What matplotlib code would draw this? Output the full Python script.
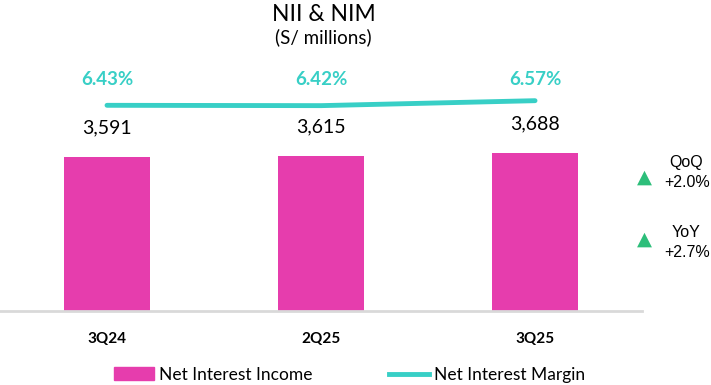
import matplotlib.pyplot as plt
from matplotlib.patches import Patch
from matplotlib.lines import Line2D

plt.rcParams['font.family'] = ['Lato', 'DejaVu Sans']

quarters = ['3Q24', '2Q25', '3Q25']
nii = [3591, 3615, 3688]
nim = [6.43, 6.42, 6.57]
nim_labels = ['6.43%', '6.42%', '6.57%']
changes = [('QoQ', '+2.0%'), ('YoY', '+2.7%')]

pink = '#E63DAD'
teal = '#38CFC6'
green = '#2DBE7A'

fig = plt.figure(figsize=(7.11, 3.85), dpi=100)
ax = fig.add_axes([0.0, 0.192, 0.903, 0.652])
x = range(len(quarters))
ax.bar(x, nii, width=0.4, color=pink, zorder=2)
for i, v in enumerate(nii):
    ax.text(i, v + 480, f'{v:,}', ha='center', va='bottom', fontsize=14, color='black')
ax.set_xlim(-0.5, 2.5)
ax.set_ylim(0, 5853)
ax.set_yticks([])
ax.set_xticks(list(x))
ax.set_xticklabels(quarters, fontsize=11, fontweight='bold')
ax.tick_params(axis='x', length=0, pad=15)
for s in ['top', 'right', 'left']:
    ax.spines[s].set_visible(False)
ax.spines['bottom'].set_color('#D9D9D9')
ax.spines['bottom'].set_linewidth(2)

# margen en eje secundario
ax2 = ax.twinx()
ax2.plot(list(x), nim, color=teal, linewidth=3.5, solid_capstyle='round')
ax2.set_ylim(0.2, 7.8)
ax2.set_yticks([])
for s in ax2.spines.values():
    s.set_visible(False)
for i, lab in enumerate(nim_labels):
    ax2.text(i, 7.2, lab, ha='center', va='center', fontsize=13.5, fontweight='bold', color=teal)

fig.text(0.455, 0.963, 'NII & NIM', ha='center', va='center', fontsize=16.5)
fig.text(0.455, 0.903, '(S/ millions)', ha='center', va='center', fontsize=13.5)

tri_y = [0.540, 0.379]
name_y = [0.577, 0.395]
val_y = [0.525, 0.343]
for (name, val), ty, ny, vy in zip(changes, tri_y, name_y, val_y):
    fig.text(0.907, ty, '\u25B2', ha='center', va='center', fontsize=14, color=green,
             family=['DejaVu Sans'])
    fig.text(0.965, ny, name, ha='center', va='center', fontsize=11.5, family=['Liberation Sans'])
    fig.text(0.966, vy, val, ha='center', va='center', fontsize=11.5, family=['Liberation Sans'])

handles = [Patch(color=pink), Line2D([0], [0], color=teal, linewidth=3.5)]
fig.legend(handles, ['Net Interest Income', 'Net Interest Margin'], loc='center',
           bbox_to_anchor=(0.492, 0.027), ncol=2, frameon=False, fontsize=12.5,
           handlelength=2.3, handletextpad=0.3, columnspacing=4.4)

fig.savefig('out.png', dpi=100)
